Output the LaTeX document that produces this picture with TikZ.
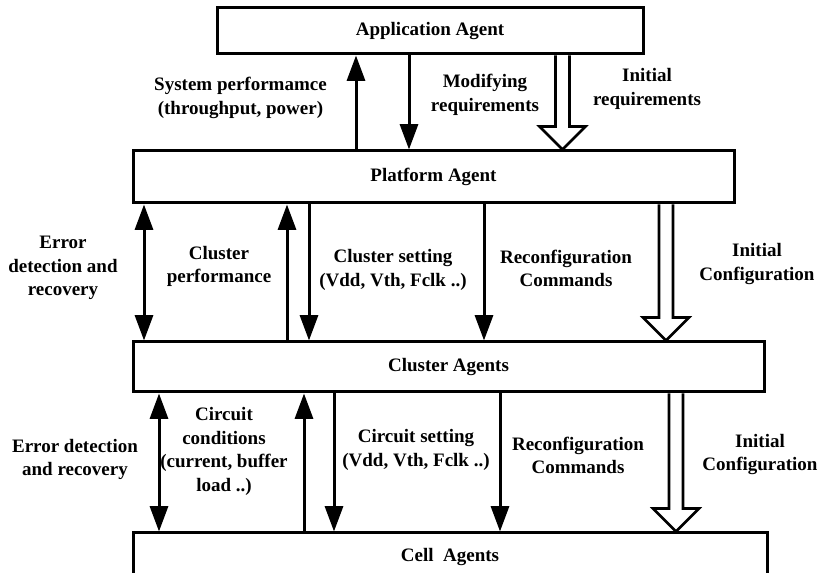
\documentclass[tikz,border=0pt]{standalone}
\usepackage{fontspec}
\setmainfont{Liberation Serif}
\usetikzlibrary{arrows.meta,calc}
\newcommand\lblfont{\fontsize{14.25}{17.6}\selectfont\bfseries}
\begin{document}
\begin{tikzpicture}[x=0.75pt,y=-0.75pt,
  agent/.style={draw, line width=2.25pt, inner sep=0pt, font=\lblfont},
  lbl/.style={align=center, font=\lblfont, inner sep=0pt},
  solidarrow/.style={line width=2.25pt, -{Triangle[length=19pt,width=13.5pt]}},
  bothways/.style={line width=2.25pt, {Triangle[length=19pt,width=13.5pt]}-{Triangle[length=19pt,width=13.5pt]}},
  hollowarrow/.style={draw, fill=white, line width=1.9pt, line join=miter}
]
\useasboundingbox (0,0) rectangle (819,573);
\clip (0,0) rectangle (819,573);

% agents
\node[agent, minimum width=319.5pt, minimum height=34.5pt] (app) at (430,31) {Application Agent};
\node[agent, minimum width=450.75pt, minimum height=39pt] (plat) at (433.5,177) {Platform Agent};
\node[agent, minimum width=473.25pt, minimum height=37.5pt] (clus) at (448.5,367) {Cluster Agents};
\node[agent, minimum width=475.5pt, minimum height=36pt] (cell) at (450,557) {Cell\ \ Agents};

% x positions of connectors
\coordinate (xa) at (356,0);
\coordinate (xb) at (409,0);
\coordinate (xh1) at (562.5,0);
\coordinate (xc) at (144,0);
\coordinate (xd) at (287,0);
\coordinate (xe) at (309,0);
\coordinate (xf) at (484,0);
\coordinate (xh2) at (666,0);
\coordinate (xg) at (159,0);
\coordinate (xi) at (304,0);
\coordinate (xj) at (334,0);
\coordinate (xk) at (500,0);
\coordinate (xh3) at (676,0);

% level 1
\draw[solidarrow] (plat.north -| xa) -- (app.south -| xa);
\draw[solidarrow] (app.south -| xb) -- (plat.north -| xb);
\coordinate (h1a) at (app.south -| xh1);
\coordinate (h1b) at (plat.north -| xh1);
\draw[hollowarrow] ($(h1a)+(-7,0)$) -- ($(h1b)+(-7,-23)$) -- ($(h1b)+(-23,-23)$) -- (h1b)
  -- ($(h1b)+(23,-23)$) -- ($(h1b)+(7,-23)$) -- ($(h1a)+(7,0)$);

% level 2
\draw[bothways] (plat.south -| xc) -- (clus.north -| xc);
\draw[solidarrow] (clus.north -| xd) -- (plat.south -| xd);
\draw[solidarrow] (plat.south -| xe) -- (clus.north -| xe);
\draw[solidarrow] (plat.south -| xf) -- (clus.north -| xf);
\coordinate (h2a) at (plat.south -| xh2);
\coordinate (h2b) at (clus.north -| xh2);
\draw[hollowarrow] ($(h2a)+(-7,0)$) -- ($(h2b)+(-7,-23)$) -- ($(h2b)+(-23,-23)$) -- (h2b)
  -- ($(h2b)+(23,-23)$) -- ($(h2b)+(7,-23)$) -- ($(h2a)+(7,0)$);

% level 3
\draw[bothways] (clus.south -| xg) -- (cell.north -| xg);
\draw[solidarrow] (cell.north -| xi) -- (clus.south -| xi);
\draw[solidarrow] (clus.south -| xj) -- (cell.north -| xj);
\draw[solidarrow] (clus.south -| xk) -- (cell.north -| xk);
\coordinate (h3a) at (clus.south -| xh3);
\coordinate (h3b) at (cell.north -| xh3);
\draw[hollowarrow] ($(h3a)+(-7,0)$) -- ($(h3b)+(-7,-23)$) -- ($(h3b)+(-23,-23)$) -- (h3b)
  -- ($(h3b)+(23,-23)$) -- ($(h3b)+(7,-23)$) -- ($(h3a)+(7,0)$);

% labels
\node[lbl] (l1) at (240.5,98) {System performamce\\(throughput, power)};
\node[lbl] (l2) at (485,95) {Modifying\\requirements};
\node[lbl] (l3) at (647,89) {Initial\\requirements};
\node[lbl] (l4) at (63,268) {Error\\detection and\\recovery};
\node[lbl] (l5) at (219,266.5) {Cluster\\performance};
\node[lbl] (l6) at (393,270) {Cluster setting\\(Vdd, Vth, Fclk ..)};
\node[lbl] (l7) at (566,268.5) {Reconfiguration\\Commands};
\node[lbl] (l8) at (757,264) {Initial\\Configuration};
\node[lbl] (l9) at (75,459.5) {Error detection\\and recovery};
\node[lbl] (l10) at (224,451.5) {Circuit\\conditions\\(current, buffer\\load ..)};
\node[lbl] (l11) at (416,450) {Circuit setting\\(Vdd, Vth, Fclk ..)};
\node[lbl] (l12) at (578,455.5) {Reconfiguration\\Commands};
\node[lbl] (l13) at (760,454.5) {Initial\\Configuration};
\end{tikzpicture}
\end{document}
